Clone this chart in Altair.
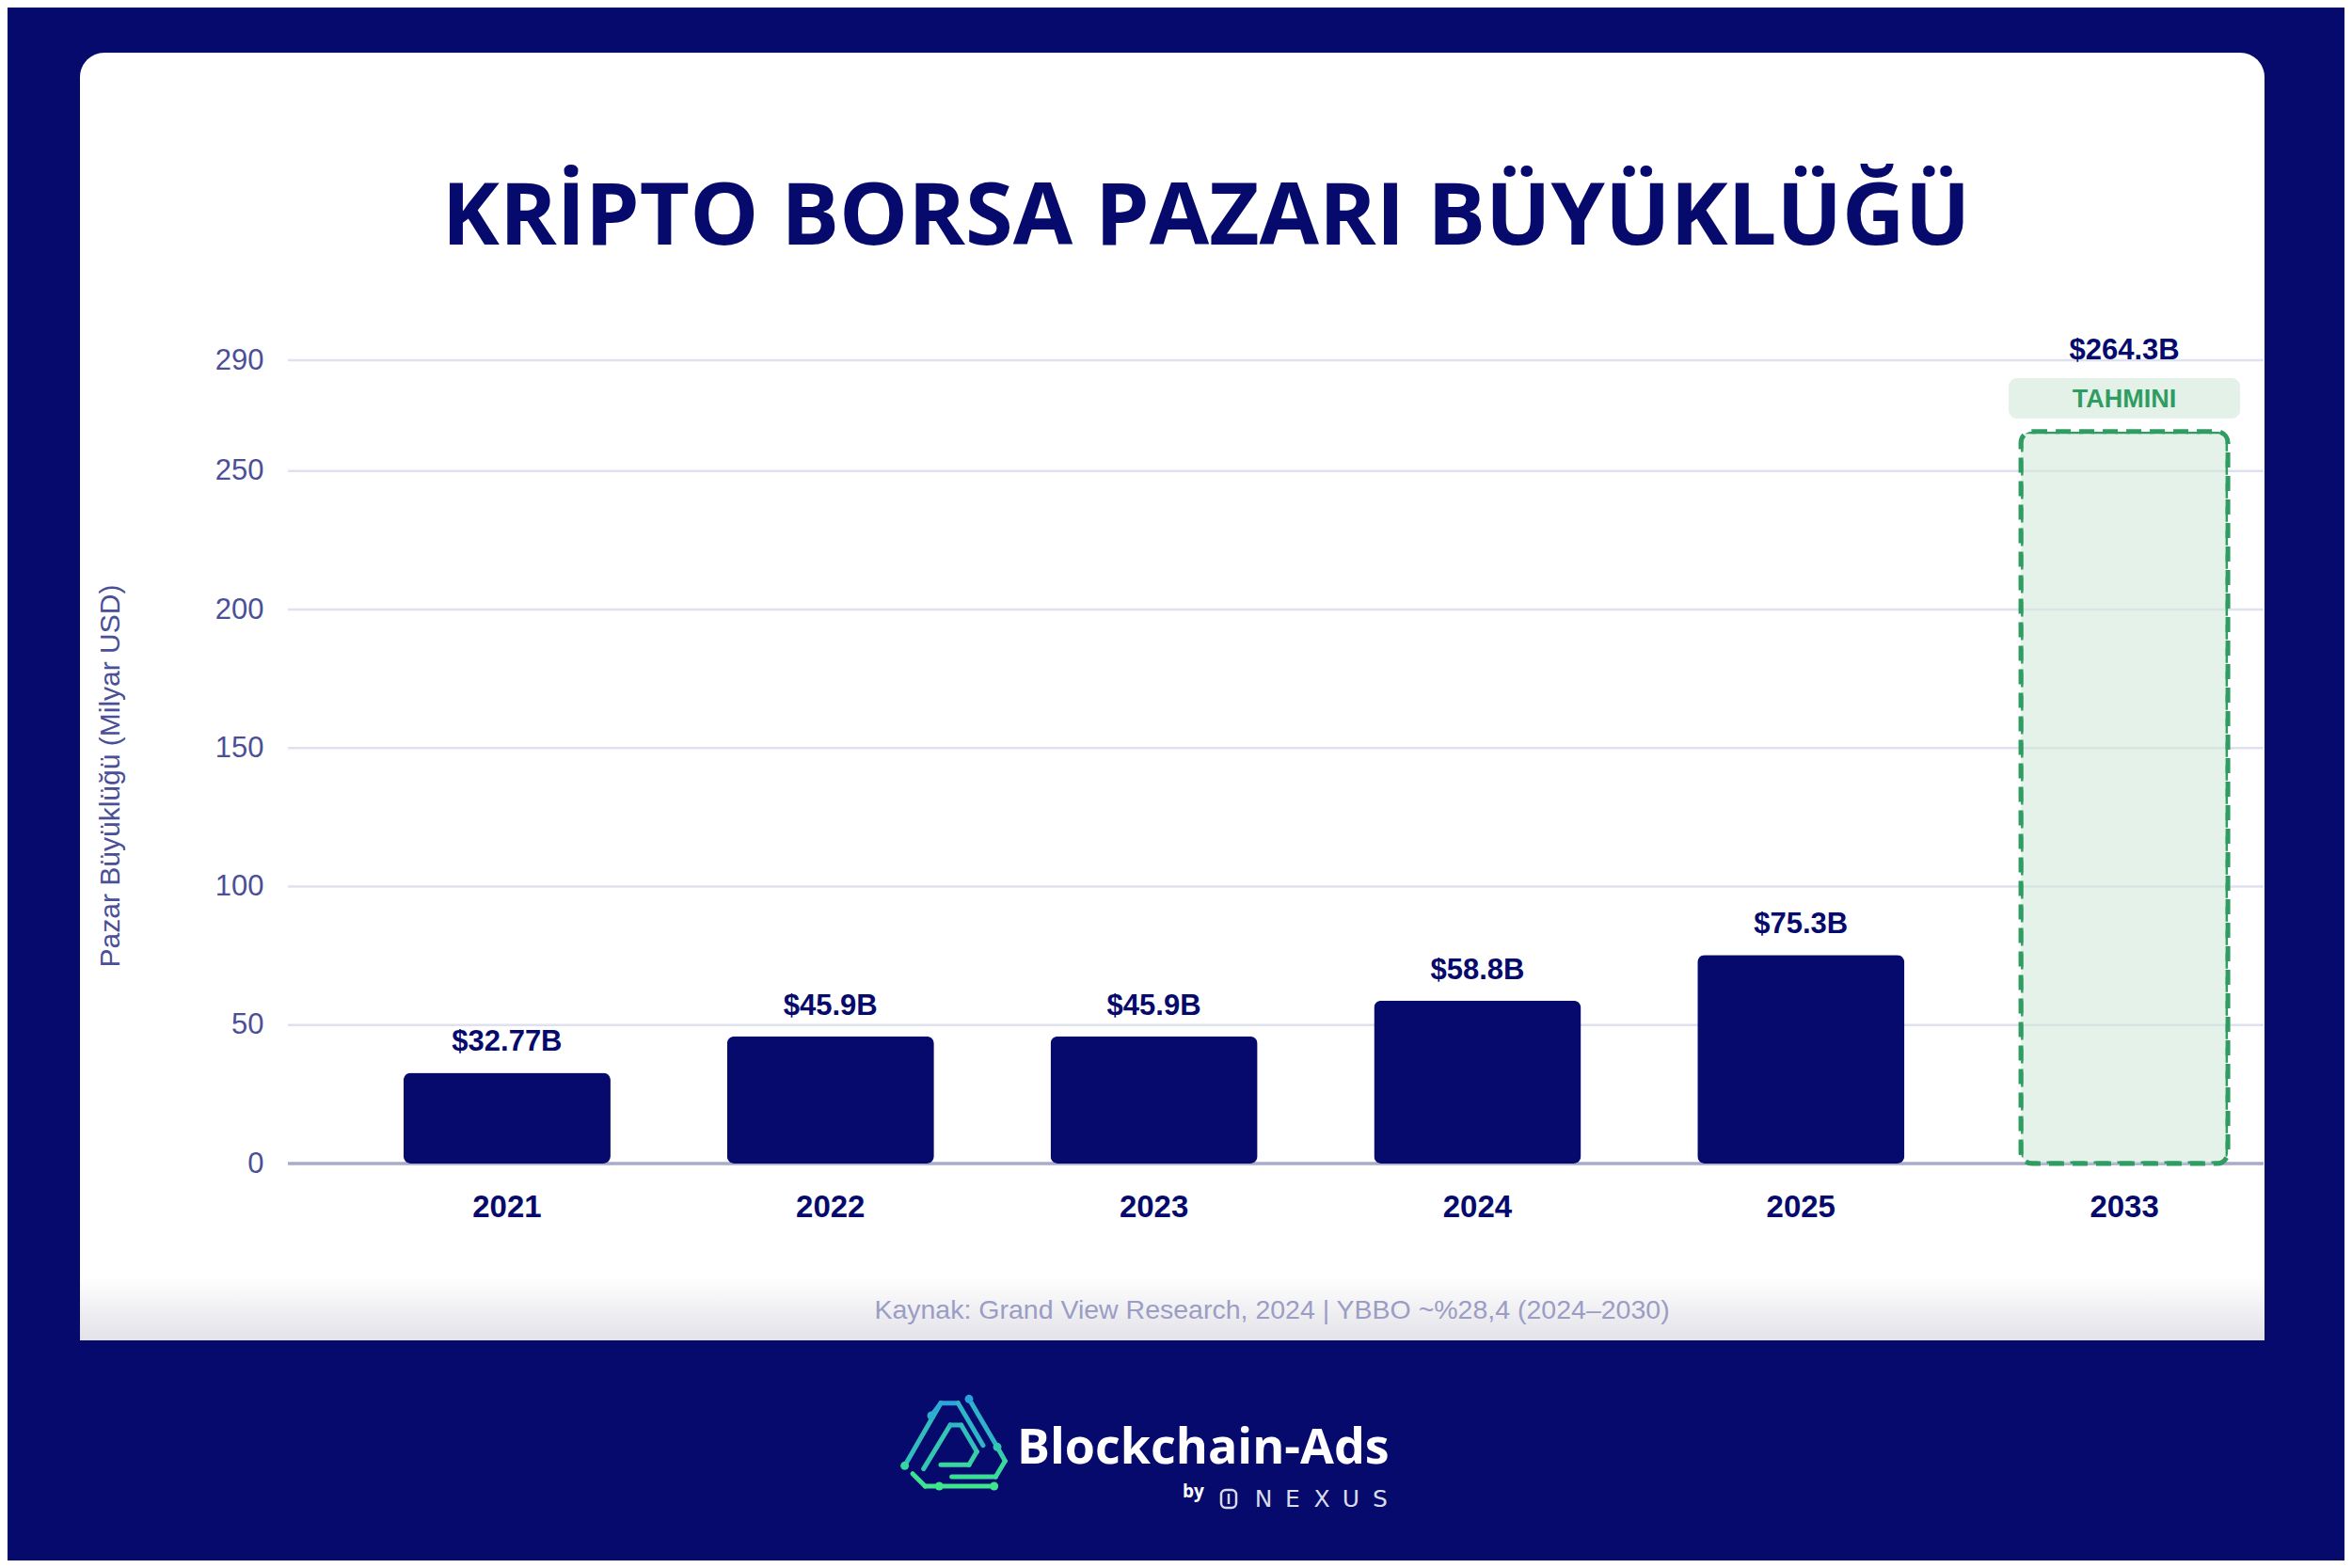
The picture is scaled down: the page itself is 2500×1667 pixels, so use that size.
import altair as alt
import pandas as pd

# ---------------- data ----------------
years = ["2021", "2022", "2023", "2024", "2025", "2033"]
values = [32.77, 45.9, 45.9, 58.8, 75.3, 264.3]
value_labels = ["$32.77B", "$45.9B", "$45.9B", "$58.8B", "$75.3B", "$264.3B"]
is_forecast = [False, False, False, False, False, True]
y_ticks = [0, 50, 100, 150, 200, 250, 290]
grid_values = [50, 100, 150, 200, 250, 290]

title_text = "KRİPTO BORSA PAZARI BÜYÜKLÜĞÜ"
y_title = "Pazar Büyüklüğü (Milyar USD)"
source_text = "Kaynak: Grand View Research, 2024 | YBBO ~%28,4 (2024–2030)"
forecast_badge = "TAHMINI"
brand = "Blockchain-Ads"
brand_by = "by"
brand_partner = "NEXUS"

# ---------------- style ----------------
NAVY = "#050a6c"
AXIS_TXT = "#4b4f97"
GRID = "#dfe1ee"
BASE = "#a9abcd"
GREEN = "#2f9d62"
FONT = "Liberation Sans"
W, H = 2100, 854

df = pd.DataFrame({"year": years, "value": values, "label": value_labels, "forecast": is_forecast})
actual = df[~df["forecast"]]
fc = df[df["forecast"]]
grid_df = pd.DataFrame({"value": grid_values})
base_df = pd.DataFrame({"value": [0]})
one = pd.DataFrame({"k": [1]})

x_axis = alt.Axis(title=None, labelAngle=0, labelFont=FONT, labelFontSize=33, labelFontWeight="bold",
                  labelColor=NAVY, labelPadding=30, domain=False, ticks=False, grid=False, zindex=1)
y_axis = alt.Axis(title=None, values=y_ticks, labelFont=FONT, labelFontSize=31, labelColor=AXIS_TXT,
                  labelPadding=26, domain=False, ticks=False, grid=False, zindex=1)
x_enc = alt.X("year:N", scale=alt.Scale(domain=years, range=[61, 2124], paddingInner=0.36, paddingOuter=0.18),
              axis=x_axis)
y_enc = alt.Y("value:Q", scale=alt.Scale(domain=[0, 290], nice=False), axis=y_axis)

# ---------------- decoration: card ----------------
card = alt.Chart(one).mark_rect(fill="white", cornerRadiusTopLeft=26, cornerRadiusTopRight=26).encode(
    x=alt.value(-221), x2=alt.value(2101), y=alt.value(-327), y2=alt.value(1042))
shade = alt.Chart(one).mark_rect(
    fill=alt.LinearGradient(gradient="linear",
                            stops=[alt.GradientStop(color="#ffffff", offset=0),
                                   alt.GradientStop(color="#e2e2e8", offset=1)],
                            x1=0, x2=0, y1=0, y2=1)).encode(
    x=alt.value(-221), x2=alt.value(2101), y=alt.value(975), y2=alt.value(1042))

# ---------------- chart marks ----------------
grid = alt.Chart(grid_df).mark_rule(color=GRID, strokeWidth=2.5).encode(
    y=y_enc, x=alt.value(0), x2=alt.value(W))
baseline = alt.Chart(base_df).mark_rule(color=BASE, strokeWidth=3.5).encode(
    y=y_enc, x=alt.value(0), x2=alt.value(W))
bars = alt.Chart(actual).mark_bar(color=NAVY, cornerRadius=8).encode(x=x_enc, y=y_enc)
fbar = alt.Chart(fc).mark_bar(fill="#cfe8d8", fillOpacity=0.55, stroke=GREEN, strokeWidth=5,
                              strokeDash=[16, 9], cornerRadius=12).encode(x=x_enc, y=y_enc)
labels_a = alt.Chart(actual).mark_text(dy=-23, baseline="alphabetic", font=FONT, fontSize=31,
                                       fontWeight="bold", color=NAVY).encode(x=x_enc, y=y_enc, text="label:N")
labels_f = alt.Chart(fc).mark_text(dy=-77, baseline="alphabetic", font=FONT, fontSize=31,
                                   fontWeight="bold", color=NAVY).encode(x=x_enc, y=y_enc, text="label:N")
badge = alt.Chart(fc).mark_bar(fill="#e3f1e8", cornerRadius=9, width=alt.RelativeBandSize(1.118)).encode(
    x=x_enc, y=alt.value(19), y2=alt.value(62))
badge_text = alt.Chart(fc).mark_text(baseline="alphabetic", font=FONT, fontSize=27, fontWeight="bold",
                                     color=GREEN).encode(x=x_enc, y=alt.value(50), text=alt.value(forecast_badge))

# ---------------- texts ----------------
title = alt.Chart(one).mark_text(font="Open Sans", fontSize=92, fontWeight="bold", color=NAVY,
                                 align="center", baseline="alphabetic").encode(
    x=alt.value(976), y=alt.value(-123), text=alt.value(title_text))
ytitle = alt.Chart(one).mark_text(font=FONT, fontSize=30, color=AXIS_TXT, angle=270,
                                  align="center", baseline="middle").encode(
    x=alt.value(-188), y=alt.value(442), text=alt.value(y_title))
source = alt.Chart(one).mark_text(font=FONT, fontSize=28.5, color="#9b9dc5", align="center",
                                  baseline="alphabetic").encode(
    x=alt.value(1046), y=alt.value(1019), text=alt.value(source_text))

# ---------------- logo (decoration) ----------------
def zp(zx, zy):
    return (950 + zx / 3 - 306, 1470 + zy / 3 - 383)

def col(zy):
    t = max(0.0, min(1.0, (zy - 50) / 280))
    a, b = (43, 160, 224), (62, 230, 140)
    return "#%02x%02x%02x" % tuple(int(a[i] + (b[i] - a[i]) * t) for i in range(3))

paths = [
    [(35, 265), (150, 65), (205, 65), (285, 200)],
    [(240, 52), (330, 205)],
    [(330, 205), (355, 250), (325, 300), (185, 300)],
    [(60, 290), (100, 330), (320, 330)],
    [(95, 275), (180, 135), (215, 135), (265, 220), (240, 262), (150, 262)],
    [(120, 105), (150, 65)],
]
segs = []
for p in paths:
    for (a, b) in zip(p[:-1], p[1:]):
        x1, y1 = zp(*a)
        x2, y2 = zp(*b)
        segs.append({"x": x1, "y": y1, "x2": x2, "y2": y2, "c": col((a[1] + b[1]) / 2)})
seg_df = pd.DataFrame(segs)
node_pts = [(240, 52), (35, 265), (330, 205), (320, 330), (145, 330), (120, 105)]
node_df = pd.DataFrame([{"x": zp(*n)[0], "y": zp(*n)[1], "c": col(n[1])} for n in node_pts])

logo = alt.Chart(seg_df).mark_rule(strokeWidth=5, strokeCap="round").encode(
    x=alt.X("x:Q", scale=None, axis=None), y=alt.Y("y:Q", scale=None, axis=None),
    x2="x2:Q", y2="y2:Q", color=alt.Color("c:N", scale=None))
nodes = alt.Chart(node_df).mark_circle(size=80, opacity=1).encode(
    x=alt.X("x:Q", scale=None, axis=None), y=alt.Y("y:Q", scale=None, axis=None),
    color=alt.Color("c:N", scale=None))
brand_t = alt.Chart(one).mark_text(font="Open Sans", fontSize=52, fontWeight="bold", color="white",
                                   align="left", baseline="alphabetic").encode(
    x=alt.value(775), y=alt.value(1173), text=alt.value(brand))
by_t = alt.Chart(one).mark_text(font="Open Sans", fontSize=19, fontWeight="bold", color="white",
                                align="left", baseline="alphabetic").encode(
    x=alt.value(951), y=alt.value(1209), text=alt.value(brand_by))
nx_icon = alt.Chart(one).mark_rect(fillOpacity=0, stroke="#d9dbe9", strokeWidth=2.5, cornerRadius=5).encode(
    x=alt.value(992), x2=alt.value(1008), y=alt.value(1201), y2=alt.value(1220))
nx_bar = alt.Chart(one).mark_rule(stroke="#d9dbe9", strokeWidth=2.5).encode(
    x=alt.value(1000), y=alt.value(1205), y2=alt.value(1216))
nx_df = pd.DataFrame({"ch": list(brand_partner),
                      "x": [1037 + 31 * i for i in range(len(brand_partner))]})
nx_text = alt.Chart(nx_df).mark_text(font="DejaVu Sans", fontSize=25, color="#d9dbe9", align="center",
                                     baseline="alphabetic").encode(
    x=alt.X("x:Q", scale=None, axis=None), y=alt.value(1219), text="ch:N")

chart = alt.layer(
    card, shade, grid, baseline, bars, fbar, labels_a, labels_f, badge, badge_text,
    title, ytitle, source, logo, nodes, brand_t, by_t, nx_icon, nx_bar, nx_text
).properties(
    width=W, height=H,
    padding={"left": 298, "top": 375, "right": 86, "bottom": 422},
    autosize=alt.AutoSizeParams(type="none"),
    background=NAVY,
).configure_view(stroke=None)

chart.save("out.html", embed_options={"renderer": "svg", "actions": False})
